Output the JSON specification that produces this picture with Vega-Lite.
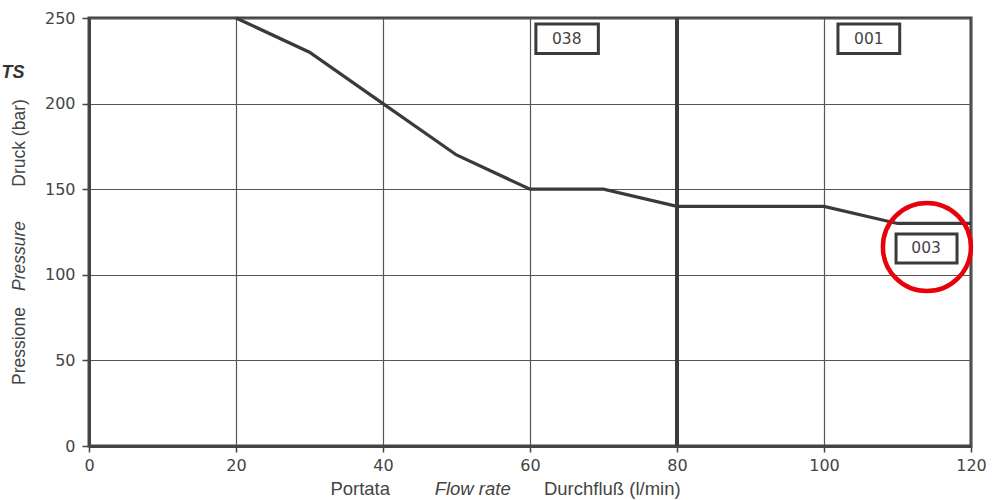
{
  "$schema": "https://vega.github.io/schema/vega-lite/v6.json",
  "width": 882,
  "height": 428,
  "autosize": {"type": "none"},
  "padding": {"left": 89, "top": 18, "right": 35, "bottom": 54},
  "background": "white",
  "config": {
    "view": {"stroke": "#444", "strokeWidth": 3},
    "font": "Liberation Sans",
    "text": {"font": "Liberation Sans"},
    "axis": {
      "grid": true,
      "gridColor": "#555",
      "gridWidth": 1.2,
      "domainColor": "#444",
      "domainWidth": 3,
      "tickColor": "#444",
      "tickWidth": 1.5,
      "tickSize": 6,
      "labelFontSize": 16,
      "labelColor": "#444",
      "labelFont": "DejaVu Sans",
      "labelFlush": false,
      "title": null
    }
  },
  "datasets": {
    "curve": [
      {"flow": 20, "pressure": 250},
      {"flow": 30, "pressure": 230},
      {"flow": 40, "pressure": 200},
      {"flow": 50, "pressure": 170},
      {"flow": 60, "pressure": 150},
      {"flow": 70, "pressure": 150},
      {"flow": 80, "pressure": 140},
      {"flow": 100, "pressure": 140},
      {"flow": 110, "pressure": 130},
      {"flow": 120, "pressure": 130}
    ],
    "boxes": [
      {"code": "038", "cx": 65.0, "cy": 237.8, "x1": 60.8, "x2": 69.3, "y1": 246.5, "y2": 229.3},
      {"code": "001", "cx": 106.1, "cy": 237.8, "x1": 101.9, "x2": 110.3, "y1": 246.5, "y2": 229.3},
      {"code": "003", "cx": 113.9, "cy": 115.4, "x1": 109.8, "x2": 118.1, "y1": 123.8, "y2": 106.9}
    ]
  },
  "layer": [
    {
      "data": {"name": "curve"},
      "mark": {"type": "line", "color": "#3a3a3a", "strokeWidth": 3.2},
      "encoding": {
        "x": {"field": "flow", "type": "quantitative", "scale": {"domain": [0, 120], "nice": false},
              "axis": {"values": [0, 20, 40, 60, 80, 100, 120], "labelPadding": 5}},
        "y": {"field": "pressure", "type": "quantitative", "scale": {"domain": [0, 250], "nice": false},
              "axis": {"values": [0, 50, 100, 150, 200, 250], "labelPadding": 7, "tickSize": 7}}
      }
    },
    {
      "data": {"values": [{"flow": 80}]},
      "mark": {"type": "rule", "color": "#3a3a3a", "strokeWidth": 4},
      "encoding": {
        "x": {"field": "flow", "type": "quantitative"}
      }
    },
    {
      "data": {"name": "boxes"},
      "mark": {"type": "rect", "fill": "white", "stroke": "#3a3a3a", "strokeWidth": 3},
      "encoding": {
        "x": {"field": "x1", "type": "quantitative"},
        "x2": {"field": "x2"},
        "y": {"field": "y1", "type": "quantitative"},
        "y2": {"field": "y2"}
      }
    },
    {
      "data": {"name": "boxes"},
      "mark": {"type": "text", "font": "DejaVu Sans", "fontSize": 15.5, "color": "#444", "align": "center", "baseline": "middle"},
      "encoding": {
        "x": {"field": "cx", "type": "quantitative"},
        "y": {"field": "cy", "type": "quantitative"},
        "text": {"field": "code"}
      }
    },
    {
      "data": {"values": [{"x": 114.0, "y": 116.2}]},
      "mark": {"type": "point", "shape": "circle", "size": 7744, "stroke": "#e8000b", "strokeWidth": 4.5, "opacity": 1, "filled": false},
      "encoding": {
        "x": {"field": "x", "type": "quantitative"},
        "y": {"field": "y", "type": "quantitative"}
      }
    },
    {
      "data": {"values": [
        {"t": "Pressione", "x": -9.4, "y": 58.4},
        {"t": "Druck (bar)", "x": -9.4, "y": 177}
      ]},
      "mark": {"type": "text", "fontSize": 17.5, "color": "#444", "angle": 270, "align": "center", "baseline": "middle"},
      "encoding": {
        "x": {"field": "x", "type": "quantitative"},
        "y": {"field": "y", "type": "quantitative"},
        "text": {"field": "t"}
      }
    },
    {
      "data": {"values": [{"t": "Pressure", "x": -9.4, "y": 111}]},
      "mark": {"type": "text", "fontSize": 17.5, "fontStyle": "italic", "color": "#444", "angle": 270, "align": "center", "baseline": "middle"},
      "encoding": {
        "x": {"field": "x", "type": "quantitative"},
        "y": {"field": "y", "type": "quantitative"},
        "text": {"field": "t"}
      }
    },
    {
      "data": {"values": [
        {"t": "Portata", "x": 36.9, "y": -25},
        {"t": "Durchfluß (l/min)", "x": 71.2, "y": -25}
      ]},
      "mark": {"type": "text", "fontSize": 18.5, "color": "#444", "align": "center", "baseline": "middle"},
      "encoding": {
        "x": {"field": "x", "type": "quantitative"},
        "y": {"field": "y", "type": "quantitative"},
        "text": {"field": "t"}
      }
    },
    {
      "data": {"values": [{"t": "Flow rate", "x": 52.2, "y": -25}]},
      "mark": {"type": "text", "fontSize": 18.5, "fontStyle": "italic", "color": "#444", "align": "center", "baseline": "middle"},
      "encoding": {
        "x": {"field": "x", "type": "quantitative"},
        "y": {"field": "y", "type": "quantitative"},
        "text": {"field": "t"}
      }
    },
    {
      "data": {"values": [{"t": "TS", "x": -11.9, "y": 218}]},
      "mark": {"type": "text", "fontSize": 18, "fontWeight": "bold", "fontStyle": "italic", "color": "#333", "align": "left", "baseline": "middle"},
      "encoding": {
        "x": {"field": "x", "type": "quantitative"},
        "y": {"field": "y", "type": "quantitative"},
        "text": {"field": "t"}
      }
    }
  ]
}
